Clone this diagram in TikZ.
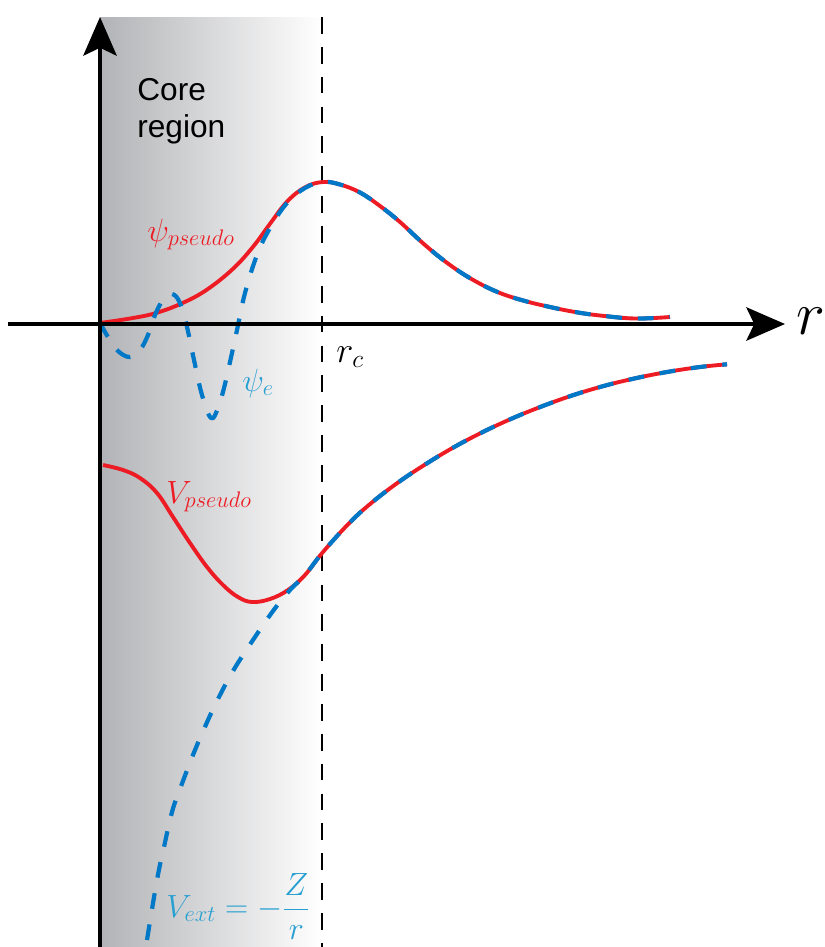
\RequirePackage{fix-cm}
\documentclass[tikz,border=0pt]{standalone}
\usepackage{fontspec}
\newfontfamily\corefont{Liberation Sans}
\usetikzlibrary{arrows.meta}
\definecolor{psred}{RGB}{237,28,36}
\definecolor{psblue}{RGB}{0,120,200}
\definecolor{lblblue}{RGB}{40,160,210}
\definecolor{coregray}{RGB}{178,179,182}
\begin{document}
\begin{tikzpicture}[x=0.02cm,y=-0.02cm,line join=round,
  >={Stealth[length=22pt,width=19pt,inset=4.5pt]},
  pseudo line/.style={psred,line width=2.2pt},
  ae line/.style={psblue,line width=2.4pt,dash pattern=on 9pt off 9pt},
  lbl/.style={inner sep=0pt,anchor=base west,font=\fontsize{18.3}{22}\selectfont}]
\useasboundingbox (0,0) rectangle (825,947);
\path
(100,947) coordinate (O_b)
(100,17) coordinate (O_t)
(8,324) coordinate (R_l)
(785,324) coordinate (R_r)
(322,17) coordinate (C_t)
(322,947) coordinate (C_b)
;
\shade[left color=coregray,right color=white] (O_b) rectangle (C_t);
\draw[line width=1pt,dash pattern=on 9.5pt off 7.5pt] (C_t)--(C_b);
\draw[pseudo line] plot[smooth,tension=0.65] coordinates {(100,323) (133,318) (157,312.7) (183,302.8) (207,289.6) (233,268.8) (253,246.8) (270,223.8) (287,201.7) (305,187.3) (323,182) (340,184.5) (360,192.5) (380,206) (400,222) (425,245) (450,265) (475,281) (500,293) (525,301) (550,307) (575,312) (600,315.5) (635,318.5) (670,317)};
\draw[ae line] plot[smooth,tension=0.65] coordinates {(100,323) (108,337) (118,351) (130,357) (140,350) (148,335) (155,315) (163,300) (172,294) (180,303) (187,327) (194,360) (202,395) (211,418) (218,408) (224,388) (230,362) (237,330) (245,293) (257,255) (270,228) (287,203) (305,188) (323,182) (340,184.5) (360,192.5) (380,206) (400,222) (425,245) (450,265) (475,281) (500,293) (525,301) (550,307) (575,312) (600,315.5) (635,318.5) (670,317)};
\draw[pseudo line] plot[smooth,tension=0.65] coordinates {(103,465) (123,470) (140,478) (157,493) (173,517) (190,543) (207,567) (223,585) (238,597) (252,602) (270,599) (288,590) (305,575) (323,552) (350,522.3) (373,501.6) (400,481.1) (427,463.3) (453,447.7) (480,433.4) (507,420.7) (533,409.8) (567,397.2) (600,387) (633,378.8) (667,372) (700,367) (727,364.3)};
\draw[ae line] plot[smooth,tension=0.65] coordinates {(147,940) (157,880) (164,847) (172,812) (180,789) (193,755) (204,729) (217,701) (233,671) (253,640) (273,611) (290,590) (305,575) (323,552) (350,522.3) (373,501.6) (400,481.1) (427,463.3) (453,447.7) (480,433.4) (507,420.7) (533,409.8) (567,397.2) (600,387) (633,378.8) (667,372) (700,367) (727,364.3)};
\draw[line width=2pt,->] (O_b)--(O_t);
\draw[line width=2pt,->] (R_l)--(R_r);
\node[lbl,font=\fontsize{35}{40}\selectfont] (rlab) at (796,334) {$r$};
\node[lbl,font=\fontsize{20.7}{24}\selectfont] (rclab) at (336,362) {$r_c$};
\node[lbl,text=psred] (psilab) at (147,241) {$\psi_{pseudo}$};
\node[lbl,text=lblblue] (psielab) at (242,391) {$\psi_e$};
\node[lbl,text=psred] (vlab) at (166,503) {$V_{pseudo}$};
\node[lbl,text=lblblue] (vextlab) at (166,917) {$V_{ext}=-\displaystyle\frac{Z}{r}$};
\node[lbl,align=left,font=\corefont\fontsize{18}{21}\selectfont] (corelab) at (137,137) {Core\\region};
\end{tikzpicture}
\end{document}
